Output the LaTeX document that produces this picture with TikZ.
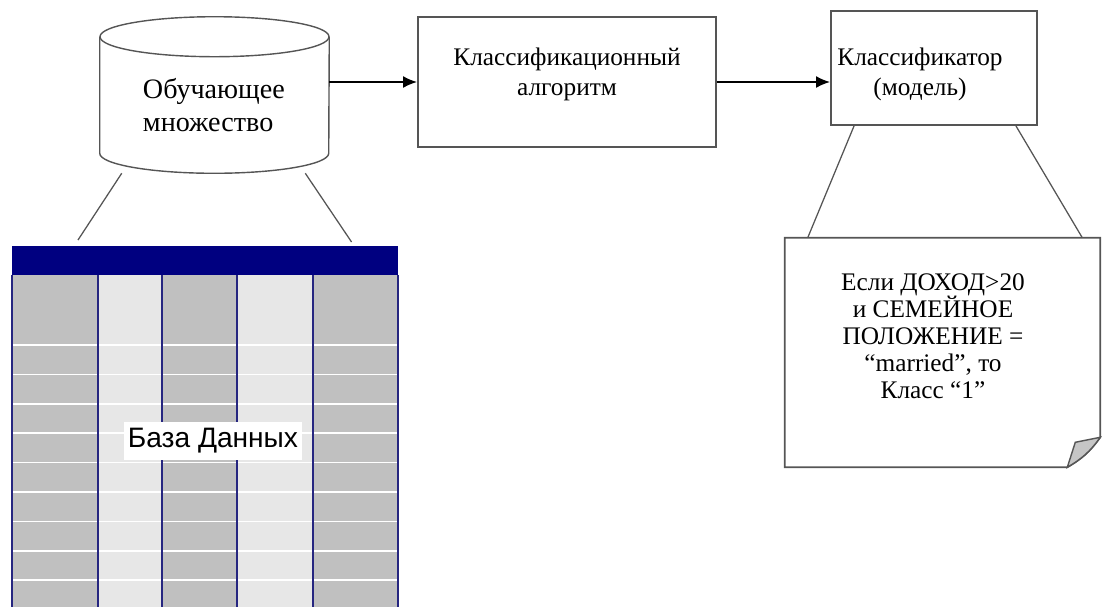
\documentclass[tikz,border=0pt]{standalone}
\usepackage{fontspec}
\setmainfont{Liberation Serif}
\newfontfamily\tablefont{Liberation Sans}
\usetikzlibrary{positioning,arrows.meta}
\definecolor{headblue}{RGB}{0,0,128}
\definecolor{darkcell}{RGB}{192,192,192}
\definecolor{lightcell}{RGB}{231,231,231}
\definecolor{boxline}{RGB}{85,85,85}
\begin{document}
\begin{tikzpicture}[
        blockbox/.style={draw=boxline,line width=1.4pt,inner sep=0},
        linktext/.style={align=center,font=\fontsize{18}{21.3}\selectfont},
        tieline/.style={draw=boxline,line width=0.9pt},
        >={Latex[length=3.5mm,width=3mm]}
    ]
    \useasboundingbox (0,0) rectangle (27.55,-15.175);

    \fill [darkcell] (0.3,-6.875) rectangle (9.95,-15.175);
    \fill [lightcell] (2.45,-6.875) rectangle (4.05,-15.175);
    \fill [lightcell] (5.925,-6.875) rectangle (7.825,-15.175);
    \foreach \k in {0,...,8}
        \draw [white,line width=1.2pt] (0.3,-8.625-0.735*\k) -- (9.95,-8.625-0.735*\k);
    \foreach \x in {0.3,2.45,4.05,5.925,7.825,9.95}
        \draw [headblue!70!gray,line width=0.8pt] (\x,-6.875) -- (\x,-15.175);
    \node (dbhead) [fill=headblue,anchor=north west,minimum width=9.65cm,minimum height=0.725cm,inner sep=0] at (0.3,-6.15) {};
    \node (db) [fill=white,font=\tablefont\fontsize{20}{23}\selectfont,minimum width=4.45cm,minimum height=0.95cm,inner sep=0] at (5.325,-11.025) {База Данных};

    \node (trainset) [minimum width=5.725cm,minimum height=2.9cm,inner sep=0] at (5.3625,-2.375) {};
    \draw [blockbox,line width=1pt] (trainset.north west) -- (trainset.south west)
        arc [start angle=180,end angle=360,x radius=2.8625cm,y radius=0.5cm] -- (trainset.north east);
    \draw [blockbox,line width=1pt] (trainset.north) ellipse [x radius=2.8625cm,y radius=0.5cm];
    \node (trainlabel) [align=left,anchor=west,font=\fontsize{20}{24}\selectfont] at (3.45,-2.625) {Обучающее\\множество};

    \node (algo) [blockbox,minimum width=7.45cm,minimum height=3.25cm] at (14.175,-2.05) {};
    \node at ([yshift=2mm]algo.center) [linktext] {Классификационный\\алгоритм};

    \node (model) [blockbox,minimum width=5.15cm,minimum height=2.85cm] at (23.35,-1.7) {};
    \node at (23.0,-1.85) [linktext] {Классификатор\\(модель)};

    \node (rule) [minimum width=7.875cm,minimum height=5.725cm,inner sep=0] at (23.5625,-8.8125) {};
    \draw [blockbox,line width=1.2pt] (rule.north west) -- (rule.north east) -- ([yshift=0.75cm]rule.south east)
        to [bend left=12] ([xshift=-0.825cm]rule.south east) -- (rule.south west) -- cycle;
    \filldraw [fill=gray!45,draw=boxline,line width=1pt] ([xshift=-0.825cm]rule.south east)
        -- ([xshift=-0.625cm,yshift=0.625cm]rule.south east) -- ([yshift=0.75cm]rule.south east)
        to [bend left=12] cycle;
    \node at (23.325,-8.4125) [align=center,font=\fontsize{18}{19.2}\selectfont] {Если ДОХОД>20\\и СЕМЕЙНОЕ\\ПОЛОЖЕНИЕ =\\“married”, то\\Класс “1”};

    \path [->,line width=1.2pt]
        (algo.west -| trainset.east) edge (algo.west)
        (algo.east) edge (algo.east -| model.west)
    ;
    \path [tieline]
        ([xshift=5.5mm,yshift=-5mm]trainset.south west) edge ([xshift=16.5mm,yshift=1.5mm]dbhead.north west)
        ([xshift=-6mm,yshift=-5mm]trainset.south east) edge ([xshift=-11.75mm,yshift=1mm]dbhead.north east)
        ([xshift=6mm]model.south west) edge ([xshift=5.75mm]rule.north west)
        ([xshift=-5.5mm]model.south east) edge ([xshift=-4.5mm]rule.north east)
    ;
\end{tikzpicture}
\end{document}
